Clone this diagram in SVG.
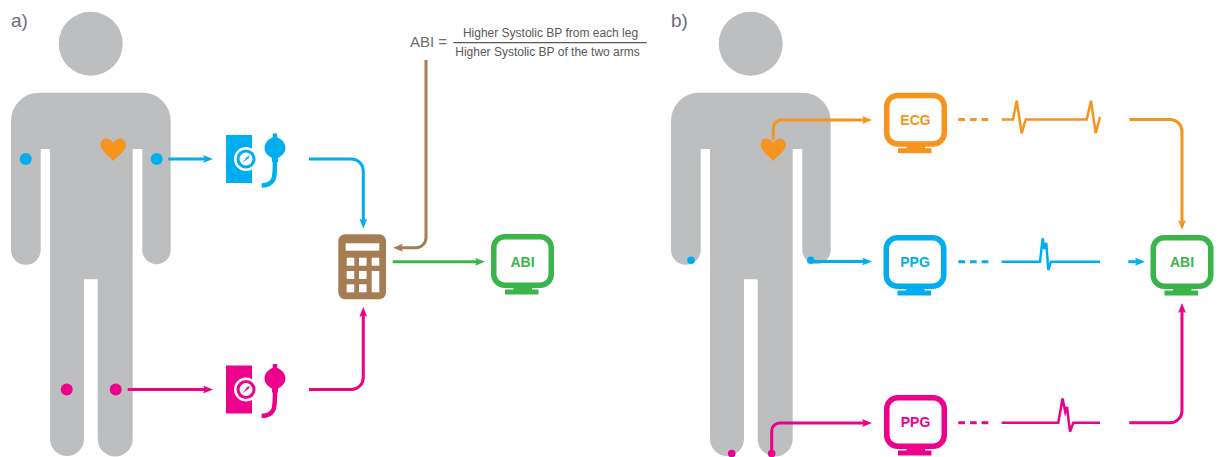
<svg xmlns="http://www.w3.org/2000/svg" xmlns:xlink="http://www.w3.org/1999/xlink" width="1219" height="457" viewBox="0 0 1219 457">
  <style>
    .body { fill: #BCBEC0; }
    .label { font-family: "Liberation Sans", Arial, sans-serif; fill: #6D6E71; }
    .panel { font-size: 19px; }
    .formula { font-size: 12px; fill: #58595B; }
    .screen-text { font-family: "Liberation Sans", Arial, sans-serif; font-weight: bold; font-size: 14px; text-anchor: middle; }
    .line { fill: none; stroke-width: 3; stroke-linejoin: round; }
    .wave { fill: none; stroke-width: 2.5; stroke-linejoin: miter; }
    .dash { fill: none; stroke-width: 3; stroke-dasharray: 6.7 5; }
    .blue { stroke: #00AEEF; }
    .pink { stroke: #EC008C; }
    .orange { stroke: #F7941D; }
    .green { stroke: #39B54A; }
    .brown { stroke: #A67C52; }
  </style>
  <defs>
    <!-- pictogram of a standing person -->
    <path id="figure" d="M11,120.7 A28,28 0 0 1 39,92.7 L142.7,92.7 A28,28 0 0 1 170.7,120.7 L170.7,250 A14.2,14.2 0 0 1 142.3,250 L142.3,149 L132.7,149 L132.7,439 A17.5,17.5 0 0 1 97.7,439 L97.7,279.3 L84,279.3 L84,439 A17,17 0 0 1 50,439 L50,149 L40.7,149 L40.7,250 A14.85,14.85 0 0 1 11,250 Z"/>
    <path id="heart" d="M113.3,143 C110,136.5 100.8,137 100.8,145 C100.8,151 108,155 113.3,161 C118.6,155 125.8,151 125.8,145 C125.8,137 116.6,136.5 113.3,143 Z"/>
    <!-- blood pressure cuff with gauge and bulb -->
    <g id="cuff">
      <rect x="0" y="0" width="26" height="48" stroke="none"/>
      <circle cx="20" cy="24" r="12" fill="#fff" stroke="none"/>
      <circle cx="20" cy="24" r="9.5" stroke="none"/>
      <circle cx="20" cy="24" r="6.5" fill="#fff" stroke="none"/>
      <path d="M16.5,27.8 L21,21.8 L23.8,20.2 L22.6,23.2 Z" stroke="none"/>
      <rect x="46.8" y="-1.5" width="4.4" height="4" stroke="none"/>
      <path d="M49,1.5 C44,3 38.5,7 38.5,13 C38.5,18 42.5,21 46,23 L46,27 L52,27 L52,23 C55.5,21 59.5,18 59.5,13 C59.5,7 54,3 49,1.5 Z" stroke="none"/>
      <path d="M49,26 C49,35 49,40 47.5,44 Q44.5,50.5 35.7,50.5" fill="none" stroke-width="4.5"/>
    </g>
    <!-- computer monitor -->
    <g id="monitor">
      <rect x="2.75" y="2.75" width="57.5" height="48.5" rx="11" fill="none" stroke-width="5.5"/>
      <rect x="22.5" y="51" width="18.5" height="6" stroke="none"/>
      <rect x="14" y="55.5" width="33.5" height="5" stroke="none"/>
    </g>
    <marker id="arrow-blue" viewBox="0 0 10 8" refX="2" refY="4" markerWidth="10" markerHeight="8" markerUnits="userSpaceOnUse" orient="auto"><path d="M0,0 L10,4 L0,8 L2,4 Z" fill="#00AEEF"/></marker>
    <marker id="arrow-pink" viewBox="0 0 10 8" refX="2" refY="4" markerWidth="10" markerHeight="8" markerUnits="userSpaceOnUse" orient="auto"><path d="M0,0 L10,4 L0,8 L2,4 Z" fill="#EC008C"/></marker>
    <marker id="arrow-orange" viewBox="0 0 10 8" refX="2" refY="4" markerWidth="10" markerHeight="8" markerUnits="userSpaceOnUse" orient="auto"><path d="M0,0 L10,4 L0,8 L2,4 Z" fill="#F7941D"/></marker>
    <marker id="arrow-green" viewBox="0 0 10 8" refX="2" refY="4" markerWidth="10" markerHeight="8" markerUnits="userSpaceOnUse" orient="auto"><path d="M0,0 L10,4 L0,8 L2,4 Z" fill="#39B54A"/></marker>
    <marker id="arrow-brown" viewBox="0 0 10 8" refX="2" refY="4" markerWidth="10" markerHeight="8" markerUnits="userSpaceOnUse" orient="auto"><path d="M0,0 L10,4 L0,8 L2,4 Z" fill="#A67C52"/></marker>
  </defs>

  <rect width="1219" height="457" fill="#fff"/>

  <!-- panel labels -->
  <text class="label panel" x="11" y="27">a)</text>
  <text class="label panel" x="671" y="27">b)</text>

  <!-- formula -->
  <g id="formula">
    <text class="label" x="410" y="46.5" font-size="15" fill="#58595B">ABI =</text>
    <line x1="453.3" y1="42.7" x2="646.7" y2="42.7" stroke="#58595B" stroke-width="1.2"/>
    <text class="label formula" x="550.5" y="37.3" text-anchor="middle">Higher Systolic BP from each leg</text>
    <text class="label formula" x="547.5" y="55.7" text-anchor="middle">Higher Systolic BP of the two arms</text>
  </g>

  <!-- panel a: person with cuff sites -->
  <g id="person-a">
    <circle class="body" cx="90.7" cy="43.7" r="32"/>
    <use href="#figure" class="body"/>
    <use href="#heart" fill="#F7941D"/>
    <circle cx="25.7" cy="159" r="6" fill="#00AEEF"/>
    <circle cx="156.7" cy="159" r="6" fill="#00AEEF"/>
    <circle cx="66.7" cy="389.5" r="6" fill="#EC008C"/>
    <circle cx="115.7" cy="389.5" r="6" fill="#EC008C"/>
  </g>

  <g id="cuff-arm">
    <use href="#cuff" x="226" y="135" fill="#00AEEF" stroke="#00AEEF"/>
  </g>
  <g id="cuff-leg">
    <use href="#cuff" x="226" y="365.5" fill="#EC008C" stroke="#EC008C"/>
  </g>

  <g id="calculator">
    <rect x="338.3" y="234.3" width="47.7" height="65" rx="7" fill="#A67C52"/>
    <g fill="#fff">
      <rect x="345.7" y="243.3" width="33.6" height="7.4"/>
      <rect x="346.7" y="257.7" width="7.6" height="8"/>
      <rect x="359" y="257.7" width="7.6" height="8"/>
      <rect x="371.7" y="257.7" width="7.6" height="8"/>
      <rect x="346.7" y="271" width="7.6" height="8"/>
      <rect x="359" y="271" width="7.6" height="8"/>
      <rect x="371.7" y="271" width="7.6" height="21.3"/>
      <rect x="346.7" y="284.3" width="7.6" height="8"/>
      <rect x="359" y="284.3" width="7.6" height="8"/>
    </g>
  </g>

  <g id="abi-a">
    <use href="#monitor" x="491" y="234" fill="#39B54A" stroke="#39B54A"/>
    <text class="screen-text" x="522.5" y="267" fill="#39B54A">ABI</text>
  </g>

  <!-- panel b: person with ECG and PPG sites -->
  <g id="person-b">
    <circle class="body" cx="750.7" cy="43.7" r="32"/>
    <use href="#figure" x="660" class="body"/>
    <use href="#heart" x="660" fill="#F7941D"/>
    <circle cx="691" cy="260.3" r="3.8" fill="#00AEEF"/>
    <circle cx="810.7" cy="260.3" r="3.8" fill="#00AEEF"/>
    <circle cx="731.7" cy="453.5" r="3.8" fill="#EC008C"/>
    <circle cx="771.7" cy="453.5" r="3.8" fill="#EC008C"/>
  </g>

  <g id="ecg">
    <use href="#monitor" x="884" y="92.7" fill="#F7941D" stroke="#F7941D"/>
    <text class="screen-text" x="915.5" y="124.7" fill="#F7941D">ECG</text>
  </g>
  <g id="ppg-arm">
    <use href="#monitor" x="883.5" y="235" fill="#00AEEF" stroke="#00AEEF"/>
    <text class="screen-text" x="915" y="267" fill="#00AEEF">PPG</text>
  </g>
  <g id="ppg-leg">
    <use href="#monitor" x="884" y="395" fill="#EC008C" stroke="#EC008C"/>
    <text class="screen-text" x="915.5" y="427" fill="#EC008C">PPG</text>
  </g>
  <g id="abi-b">
    <use href="#monitor" x="1150.5" y="235" fill="#39B54A" stroke="#39B54A"/>
    <text class="screen-text" x="1182" y="267" fill="#39B54A">ABI</text>
  </g>

  <g id="connectors">
    <!-- panel a -->
    <path class="line blue" d="M168.3,159 L205,159" marker-end="url(#arrow-blue)"/>
    <path class="line pink" d="M127.7,389.5 L205,389.5" marker-end="url(#arrow-pink)"/>
    <path class="line blue" d="M309,159 L351.3,159 A12,12 0 0 1 363.3,171 L363.3,220.5" marker-end="url(#arrow-blue)"/>
    <path class="line pink" d="M309,389.5 L351.3,389.5 A12,12 0 0 0 363.3,377.5 L363.3,315" marker-end="url(#arrow-pink)"/>
    <path class="line brown" d="M426,60 L426,237.7 A10,10 0 0 1 416,247.7 L401,247.7" marker-end="url(#arrow-brown)"/>
    <path class="line green" d="M392.7,261.7 L477,261.7" marker-end="url(#arrow-green)"/>

    <!-- panel b: sensors to monitors -->
    <path class="line orange" d="M773.3,140 L773.3,128 A8,8 0 0 1 781.3,120 L864,120" marker-end="url(#arrow-orange)"/>
    <path class="line blue" d="M811,261.5 L864,261.5" marker-end="url(#arrow-blue)"/>
    <path class="line pink" d="M771.7,454 L771.7,431 A8,8 0 0 1 779.7,423 L864,423" marker-end="url(#arrow-pink)"/>

    <!-- signal traces -->
    <line class="dash orange" x1="958.3" y1="119.5" x2="988.3" y2="119.5"/>
    <polyline class="wave orange" points="1001.7,119.5 1013,119.5 1016.7,100.7 1021.7,133.3 1025.7,119.5 1086.7,119.5 1091,100.7 1095.7,133.3 1100,117"/>
    <line class="dash blue" x1="958.3" y1="261.7" x2="988.3" y2="261.7"/>
    <polyline class="wave blue" points="1001.7,261.7 1040,261.7 1042.7,238.3 1044.3,249 1046.3,243 1048.3,270 1051,261.7 1100,261.7"/>
    <line class="dash pink" x1="958.3" y1="422.8" x2="988.3" y2="422.8"/>
    <polyline class="wave pink" points="1001.7,422.8 1058.3,422.8 1062.5,398.5 1065.3,412 1067,407 1070,431.7 1073.3,422.8 1100,422.8"/>

    <!-- panel b: monitors to ABI -->
    <path class="line orange" d="M1129.3,119.5 L1170,119.5 A12,12 0 0 1 1182,131.5 L1182,222" marker-end="url(#arrow-orange)"/>
    <path class="line blue" d="M1128.3,261.7 L1137,261.7" marker-end="url(#arrow-blue)"/>
    <path class="line pink" d="M1129.3,422.8 L1170,422.8 A12,12 0 0 0 1182,410.8 L1182,311" marker-end="url(#arrow-pink)"/>
  </g>
</svg>
